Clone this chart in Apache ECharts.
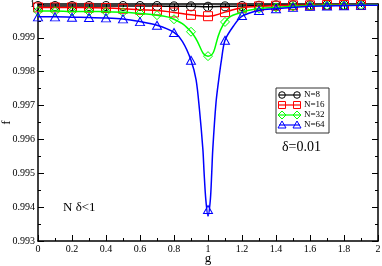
<!DOCTYPE html>
<html><head><meta charset="utf-8">
<script src="https://cdn.jsdelivr.net/npm/echarts@6/dist/echarts.min.js"></script>
<style>html,body{margin:0;padding:0;background:#fff}#c{width:382px;height:266px}</style>
</head><body><div id="c"></div>
<script>
// marker positions (g) and values
const gMarks = [0,0.1,0.2,0.3,0.4,0.5,0.6,0.7,0.8,0.9,1.0,1.1,1.2,1.3,1.4,1.5,1.6,1.7,1.8,1.9,2.0];
const n8  = [0.99994,0.99994,0.99994,0.99994,0.99994,0.99994,0.99994,0.99994,0.99993,0.99993,0.99992,0.99993,0.99994,0.99995,0.99996,0.99996,0.99996,0.99997,0.99997,0.99997,0.99997];
const n16 = [0.9999,0.9999,0.9999,0.99989,0.99988,0.99986,0.99983,0.99981,0.99975,0.99968,0.99964,0.99976,0.99989,0.99993,0.99995,0.99996,0.99996,0.99997,0.99997,0.99997,0.99997];
const n32 = [0.99979,0.99979,0.99978,0.99978,0.99977,0.99976,0.99972,0.99967,0.99955,0.99918,0.99846,0.99947,0.99976,0.99986,0.9999,0.99993,0.99995,0.99996,0.99996,0.99997,0.99997];
const n64 = [0.99962,0.99962,0.99961,0.9996,0.99959,0.99956,0.99948,0.99937,0.99916,0.99834,0.99393,0.99893,0.99966,0.99981,0.99986,0.9999,0.99993,0.99994,0.99995,0.99996,0.99996];
// N=64 curve read at extra points around the dip
const g64Curve = [0,0.1,0.2,0.3,0.4,0.5,0.6,0.7,0.8,0.85,0.9,0.93,0.95,0.97,0.977,0.987,1.0,1.014,1.022,1.028,1.047,1.063,1.079,1.1,1.15,1.2,1.3,1.4,1.5,1.6,1.7,1.8,1.9,2.0];
const n64Curve = [0.99962,0.99962,0.99961,0.9996,0.99959,0.99956,0.99948,0.99937,0.99916,0.99889,0.99834,0.99776,0.99687,0.9957,0.99502,0.99423,0.99374,0.99423,0.99502,0.9957,0.99708,0.99776,0.99834,0.99893,0.99935,0.99964,0.99981,0.99986,0.9999,0.99993,0.99994,0.99995,0.99996,0.99996];
const names = ['N=8','N=16','N=32','N=64'];
const colors = ['#000000','#ff0000','#00ff00','#0000ff'];
const symbols = ['circle','rect','diamond','triangle'];

const pairs = (xs, ys) => xs.map((x,i)=>[x, ys[i]]);
const serif = 'Liberation Serif, Times New Roman, serif';

const chart = echarts.init(document.getElementById('c'), null, {renderer:'canvas'});
const grid = {left:38, top:4, right:4, bottom:25, containLabel:false, outerBoundsMode:'none'};
const axisCommon = {
  axisLine:{show:true, onZero:false, lineStyle:{color:'#000', width:1.5}},
  axisTick:{show:true, inside:true, length:6, lineStyle:{color:'#000', width:1}},
  minorTick:{show:true, splitNumber:2, length:3, lineStyle:{color:'#000', width:1}},
  splitLine:{show:false}
};
const series = [];
const vals = [n8, n16, n32, n64];
for (let k=0;k<4;k++){
  const lineData = k===3 ? pairs(g64Curve, n64Curve) : pairs(gMarks, vals[k]);
  series.push({
    type:'line', name:names[k], data:lineData, smooth: k===3 ? 0.3 : 0.5,
    showSymbol:false, symbol:'none', clip:true, z:2+k,
    lineStyle:{color:colors[k], width:1.5}, itemStyle:{color:colors[k]}, silent:true
  });
  series.push({
    type:'line', name:names[k]+'m', data:pairs(gMarks.slice(0,20), vals[k].slice(0,20)),
    symbol:symbols[k], symbolSize: k===3 ? [9,8] : 9, showSymbol:true, clip:false, z:2+k,
    lineStyle:{width:0, opacity:0},
    itemStyle:{color:'rgba(255,255,255,0)', borderColor:colors[k], borderWidth:1}, silent:true
  });
}

// legend drawn as graphic
const lg = [];
const LX = 276, LY = 88;
lg.push({type:'rect', shape:{x:LX, y:LY, width:53, height:45}, style:{fill:'#fff', stroke:'#333', lineWidth:1}, z:100});
for (let k=0;k<4;k++){
  const y = LY + 7 + 10*k;
  const c = colors[k];
  lg.push({type:'line', shape:{x1:LX+3, y1:y, x2:LX+24, y2:y}, style:{stroke:c, lineWidth:1.2}, z:101});
  [LX+6, LX+21].forEach(cx=>{
    let el;
    if (k===0) el = {type:'circle', shape:{cx:cx, cy:y, r:3.3}};
    else if (k===1) el = {type:'rect', shape:{x:cx-3.5, y:y-3.5, width:7, height:7}};
    else if (k===2) el = {type:'polygon', shape:{points:[[cx,y-4],[cx+4,y],[cx,y+4],[cx-4,y]]}};
    else el = {type:'polygon', shape:{points:[[cx,y-4],[cx+4,y+3],[cx-4,y+3]]}};
    el.style = {fill:'none', stroke:c, lineWidth:1}; el.z = 102;
    lg.push(el);
  });
  lg.push({type:'text', x:LX+28, y:y, style:{text:names[k], font:'9px '+serif, fill:'#000', verticalAlign:'middle'}, z:102});
}
lg.push({type:'text', x:282, y:147, style:{text:'δ=0.01', font:'14px '+serif, fill:'#000', verticalAlign:'middle'}, z:102});
lg.push({type:'text', x:63, y:208, style:{text:'N δ<1', font:'13px '+serif, fill:'#000', verticalAlign:'middle'}, z:102});

chart.setOption({
  animation:false,
  backgroundColor:'#fff',
  grid:grid,
  xAxis:[
    Object.assign({type:'value', min:0, max:2, interval:0.2, position:'bottom',
      name:'g', nameLocation:'middle', nameGap:11, nameMoveOverlap:false,
      nameTextStyle:{fontFamily:serif, fontSize:13, color:'#000'},
      axisLabel:{fontFamily:serif, fontSize:10, color:'#000', margin:3,
        formatter:v=>String(Math.round(v*10)/10)}}, axisCommon),
    Object.assign({type:'value', min:0, max:2, interval:0.2, position:'top',
      axisLabel:{show:false}}, axisCommon)
  ],
  yAxis:[
    Object.assign({type:'value', min:0.993, max:1, interval:0.001, position:'left',
      name:'f', nameLocation:'middle', nameGap:25, nameRotate:90, nameMoveOverlap:false,
      nameTextStyle:{fontFamily:serif, fontSize:13, color:'#000'},
      axisLabel:{fontFamily:serif, fontSize:10, color:'#000', margin:3,
        formatter:v=> Math.abs(v-1)<1e-9 ? '1' : v.toFixed(3)}}, axisCommon),
    Object.assign({type:'value', min:0.993, max:1, interval:0.001, position:'right',
      axisLabel:{show:false}}, axisCommon)
  ],
  series:series,
  graphic:lg
});
</script></body></html>
